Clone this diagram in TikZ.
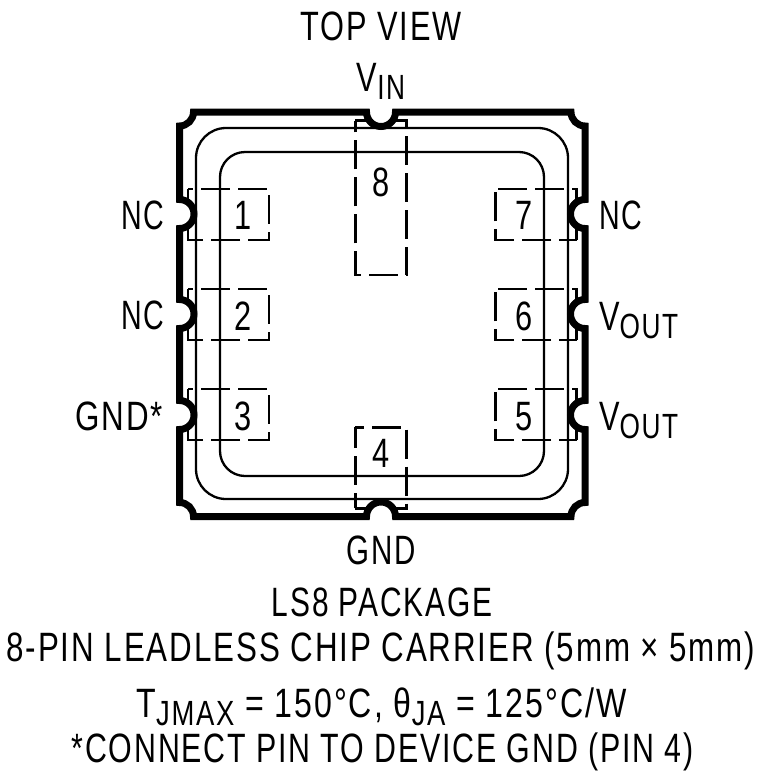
\documentclass[tikz,border=0pt]{standalone}
\usepackage{fontspec}
\setmainfont[FakeStretch=0.75,LetterSpace=4.5]{Liberation Sans}
\newcommand{\subt}[1]{\raisebox{-8.5pt}{\fontsize{35}{35}\selectfont #1}}
\tikzset{
  label text/.style={font=\fontsize{41}{41}\selectfont, inner sep=0pt, text=black},
  outline/.style={line width=7pt, black, line join=miter},
  ring/.style={line width=2.3pt, black, rounded corners=#1},
  pad/.style={line width=2.6pt, black, dash pattern=on 29pt off 8pt},
  hole/.style={fill=white, draw=none}
}
\begin{document}
\begin{tikzpicture}[x=1pt,y=1pt]
\useasboundingbox (0,0) rectangle (760,-777);
% package rings
\draw[ring=30pt] (196,-128) rectangle (568,-499);
\draw[ring=25pt] (220,-152) rectangle (544,-476);
% left pads
\foreach \t in {189,289,389}
  \draw[pad,dash phase=24pt] (188,-\t) -- ++(81,0) -- ++(0,-51) -- ++(-81,0) -- cycle;
% right pads
\foreach \t in {189,289,389} {
  \draw[pad,dash phase=34.5pt] (495.7,-\t) -- ++(81,0) -- ++(0,-51);
  \draw[pad,dash phase=11.3pt] (576.7,-\t-51) -- ++(-81,0) -- ++(0,51);
}
% centre pads
\draw[pad,dash phase=7.3pt] (355.3,-120.7) -- (406.7,-120.7) -- (406.7,-275) -- (355.3,-275) -- cycle;
\draw[pad,dash phase=20.3pt] (355.3,-427.3) -- (406.7,-427.3) -- (406.7,-508.3) -- (355.3,-508.3);
\draw[pad,dash phase=13.4pt] (355.3,-508.3) -- (355.3,-427.3);
% notches clear what lies under them
\foreach \c in {(381,-112),(381,-516.5),(179.5,-214),(179.5,-314),(179.5,-415),(585,-214),(585,-314),(585,-415)}
  \fill[hole] \c circle (14.5pt);
% package outline
\draw[outline] (193.5,-112) -- (366.5,-112) arc (180:360:14.5) -- (571,-112) arc (180:270:14)
  -- (585,-199.5) arc (90:270:14.5) -- (585,-299.5) arc (90:270:14.5) -- (585,-400.5) arc (90:270:14.5)
  -- (585,-502.5) arc (90:180:14) -- (395.5,-516.5) arc (0:180:14.5) -- (193.5,-516.5) arc (0:90:14)
  -- (179.5,-429.5) arc (-90:90:14.5) -- (179.5,-328.5) arc (-90:90:14.5) -- (179.5,-228.5) arc (-90:90:14.5)
  -- (179.5,-126) arc (270:360:14) -- cycle;
% labels
\node[label text,anchor=base] (top) at (381,-40) {TOP VIEW};
\node[label text,anchor=base] (vin) at (381,-91) {V\subt{IN}};
\node[label text,anchor=base east,xscale=0.93,transform shape] (nc1) at (164.5,-229) {NC};
\node[label text,anchor=base east,xscale=0.93,transform shape] (nc2) at (164.5,-329) {NC};
\node[label text,anchor=base east,xscale=1.02,transform shape] (gnds) at (163,-430) {GND*};
\node[label text,anchor=base west,xscale=0.93,transform shape] (nc7) at (599,-229) {NC};
\node[label text,anchor=base west] (vo6) at (599,-330) {V\subt{OUT}};
\node[label text,anchor=base west] (vo5) at (599,-430) {V\subt{OUT}};
\node[label text,anchor=base] (p1) at (243,-229) {1};
\node[label text,anchor=base] (p2) at (243,-330) {2};
\node[label text,anchor=base] (p3) at (243,-430) {3};
\node[label text,anchor=base] (p7) at (524,-229) {7};
\node[label text,anchor=base] (p6) at (524,-330) {6};
\node[label text,anchor=base] (p5) at (524,-430) {5};
\node[label text,anchor=base] (p8) at (381,-196) {8};
\node[label text,anchor=base] (p4) at (381,-467) {4};
\node[label text,anchor=base,xscale=0.96,transform shape] (gnd) at (381,-564) {GND};
\node[label text,anchor=base,xscale=0.973,transform shape] (ls8) at (382,-616) {LS8 PACKAGE};
\node[label text,anchor=base,xscale=1.019,transform shape] (pin8) at (381,-661) {8-PIN LEADLESS CHIP CARRIER (5mm × 5mm)};
\node[label text,anchor=base,xscale=1.045,transform shape] (tj) at (381.5,-717) {T\subt{JMAX} = 150°C, θ\subt{JA} = 125°C/W};
\node[label text,anchor=base,xscale=0.987,transform shape] (conn) at (382.5,-762.5) {*CONNECT PIN TO DEVICE GND (PIN 4)};
\end{tikzpicture}
\end{document}
